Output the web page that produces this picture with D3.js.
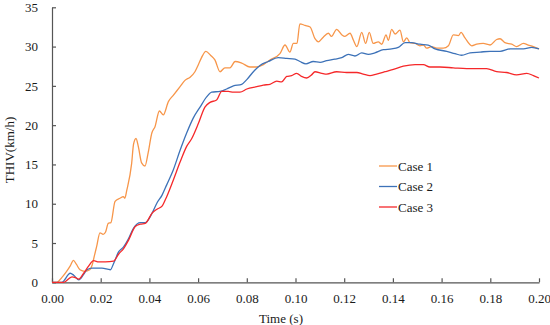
<!DOCTYPE html>
<html>
<head>
<meta charset="utf-8">
<script src="https://cdn.jsdelivr.net/npm/d3@7"></script>
<style>
  body { margin: 0; background: #fff; }
  svg text { font-family: 'Liberation Serif', 'Times New Roman', Times, 'DejaVu Serif', serif !important; fill: #1a1a1a; }
</style>
</head>
<body>
<svg id="thiv-chart"></svg>
<script>
////////////////////////////////////////////////////////////////////////////////
///////////////////////////////////////////////////////////////////////// Data
////////////////////////////////////////////////////////////////////////////////

// [time (s), THIV (km/h)]
const case1 = [
  [0,0],[0.002,0],[0.004,0.6],[0.006,1.4],[0.0075,2.1],[0.0088,2.8],[0.010,2.3],[0.0115,1.6],
  [0.0135,1.4],[0.0155,1.6],[0.0165,2.2],[0.0175,3.5],[0.0183,4.5],[0.0197,6.3],[0.021,6.1],
  [0.022,6.4],[0.0231,7.5],[0.0242,7.6],[0.0259,10.3],[0.0279,10.7],[0.0293,10.9],[0.0299,10.7],
  [0.0307,11.7],[0.0327,15.1],[0.0335,17.6],[0.0345,18.3],[0.0355,17.2],[0.0368,15.2],[0.0382,14.8],
  [0.0395,16.5],[0.041,19.0],[0.0423,19.8],[0.0441,21.8],[0.0457,21.3],[0.0478,23.0],[0.0498,23.8],
  [0.0526,24.9],[0.0546,25.7],[0.0567,26.1],[0.0587,26.8],[0.0601,27.7],[0.0614,28.6],[0.0632,29.4],
  [0.0651,28.9],[0.0669,28.3],[0.069,26.8],[0.071,27.3],[0.0731,27.3],[0.0752,28.1],[0.0779,27.9],
  [0.0813,27.4],[0.0841,27.4],[0.0868,27.7],[0.0895,28.3],[0.0936,29.1],[0.0957,30.2],[0.0977,29.3],
  [0.0991,30.4],[0.1006,30.4],[0.1018,32.9],[0.1039,32.7],[0.106,32.5],[0.108,31.0],[0.1094,30.6],
  [0.1114,31.2],[0.1135,31.7],[0.1148,31.3],[0.1169,32.2],[0.119,31.5],[0.1203,31.3],[0.1224,31.7],
  [0.1238,30.8],[0.1252,30.0],[0.1272,31.8],[0.1288,30.4],[0.1303,31.8],[0.1319,30.4],[0.134,30.6],
  [0.1354,30.3],[0.1372,31.5],[0.1381,30.8],[0.1395,32.2],[0.1409,31.6],[0.1429,32.1],[0.1443,30.6],
  [0.1457,31.1],[0.147,30.5],[0.1491,30.4],[0.1511,30.1],[0.1525,30.2],[0.1539,29.8],[0.1559,30.0],
  [0.158,29.8],[0.1607,29.8],[0.1628,30.1],[0.1648,31.5],[0.1669,31.4],[0.168,31.8],[0.1696,31.1],
  [0.1724,30.1],[0.1744,30.3],[0.1771,30.4],[0.1799,30.2],[0.1826,30.9],[0.184,31.0],[0.186,30.5],
  [0.1888,30.3],[0.1908,30.0],[0.1936,30.4],[0.1956,30.2],[0.1977,30.0],[0.2,29.7]
];

const case2 = [
  [0,0],[0.004,0],[0.0075,1.15],[0.0089,0.9],[0.011,0.3],[0.013,1.0],[0.0144,1.6],[0.0164,1.8],
  [0.0205,1.8],[0.024,1.6],[0.0253,2.4],[0.0274,3.9],[0.0294,4.5],[0.0315,5.6],[0.0335,6.9],
  [0.0363,7.6],[0.0383,7.6],[0.0411,8.8],[0.0431,10.1],[0.0452,11.1],[0.0471,12.4],[0.0498,14.3],
  [0.0526,16.8],[0.0553,19.0],[0.058,20.9],[0.0608,22.3],[0.0635,23.6],[0.0656,24.2],[0.069,24.3],
  [0.0717,24.6],[0.0745,25.0],[0.0779,25.2],[0.08,25.8],[0.0827,26.8],[0.0854,27.6],[0.0888,28.1],
  [0.0929,28.6],[0.0964,28.5],[0.0998,28.4],[0.1018,28.1],[0.1043,27.8],[0.1073,28.1],[0.1101,28.0],
  [0.1128,28.2],[0.1162,28.4],[0.119,28.6],[0.1217,29.0],[0.1244,28.8],[0.1272,29.2],[0.1299,29.0],
  [0.1326,29.2],[0.1361,29.6],[0.1395,29.7],[0.1422,29.9],[0.145,30.5],[0.1477,30.5],[0.1511,30.3],
  [0.1545,30.2],[0.1573,29.7],[0.1621,29.4],[0.1655,29.1],[0.1682,28.9],[0.1717,29.2],[0.1758,29.3],
  [0.1799,29.4],[0.184,29.4],[0.1881,29.7],[0.1936,29.7],[0.197,29.9],[0.2,29.7]
];

const case3 = [
  [0,0],[0.0048,0],[0.0082,0.7],[0.0096,0.6],[0.011,0.4],[0.013,1.15],[0.0151,2.1],[0.0171,2.75],
  [0.0192,2.6],[0.0219,2.6],[0.0253,2.7],[0.0274,3.6],[0.0294,4.3],[0.0315,5.4],[0.0342,7.1],
  [0.0363,7.4],[0.0383,7.5],[0.0411,8.8],[0.0431,9.3],[0.0452,9.7],[0.0471,10.9],[0.0498,13.0],
  [0.0526,15.3],[0.0553,17.3],[0.0574,18.3],[0.0601,20.2],[0.0628,22.3],[0.0649,22.9],[0.0676,23.2],
  [0.0697,24.3],[0.0724,24.3],[0.0745,24.2],[0.0772,24.2],[0.08,24.6],[0.0841,24.9],[0.0868,25.1],
  [0.0895,25.2],[0.0923,25.6],[0.0943,25.5],[0.0964,26.2],[0.0984,26.3],[0.1005,26.6],[0.1025,26.2],
  [0.1046,26.0],[0.1066,26.4],[0.108,26.8],[0.1108,26.6],[0.1128,26.5],[0.1169,26.8],[0.121,26.7],
  [0.1252,26.7],[0.1278,26.5],[0.1306,26.3],[0.1333,26.5],[0.1368,26.8],[0.1402,27.1],[0.1443,27.5],
  [0.1491,27.7],[0.1525,27.7],[0.1552,27.4],[0.1593,27.4],[0.1648,27.3],[0.1703,27.2],[0.1744,27.2],
  [0.1785,27.2],[0.1826,26.8],[0.1867,26.7],[0.1908,26.4],[0.195,26.6],[0.1977,26.3],[0.2,26.0]
];

const seriesNames = ["Case 1", "Case 2", "Case 3"];
const seriesColors = ["#F7964A", "#3D72B8", "#F5282A"];
const xTicks = [0, 0.02, 0.04, 0.06, 0.08, 0.10, 0.12, 0.14, 0.16, 0.18, 0.20];
const yTicks = [0, 5, 10, 15, 20, 25, 30, 35];

////////////////////////////////////////////////////////////////////////////////
//////////////////////////////////////////////////////////////////// SVG setup
////////////////////////////////////////////////////////////////////////////////

const svgWidth = 550;
const svgHeight = 325;
const plot = { left: 52, right: 539, top: 7.3, bottom: 282.3 };
const axisColor = "#555";
const fontFamily = "'Liberation Serif', 'Times New Roman', Times, 'DejaVu Serif', serif";
const fontSize = "13px";

const svg = d3.select("#thiv-chart")
              .attr("width", svgWidth)
              .attr("height", svgHeight)
              .attr("font-family", fontFamily);

const xScale = d3.scaleLinear()
                 .domain([0, 0.2])
                 .range([plot.left, plot.right]);

const yScale = d3.scaleLinear()
                 .domain([0, 35])
                 .range([plot.bottom, plot.top]);

////////////////////////////////////////////////////////////////////////////////
///////////////////////////////////////////////////////////////////////// Axes
////////////////////////////////////////////////////////////////////////////////

const xAxis = d3.axisBottom(xScale)
                .tickValues(xTicks)
                .tickFormat(d3.format(".2f"))
                .tickSizeInner(-4)
                .tickSizeOuter(0)
                .tickPadding(11);

const yAxis = d3.axisLeft(yScale)
                .tickValues(yTicks)
                .tickFormat(d3.format("d"))
                .tickSizeInner(-4)
                .tickSizeOuter(0)
                .tickPadding(14);

function styleAxis(g) {
  g.attr("font-family", fontFamily).attr("font-size", fontSize);
  g.select(".domain").attr("stroke", axisColor).attr("stroke-width", 1.2);
  g.selectAll(".tick line").attr("stroke", axisColor).attr("stroke-width", 1.2);
  g.selectAll(".tick text").attr("fill", "#1a1a1a");
}

svg.append("g")
     .attr("transform", `translate(0, ${plot.bottom})`)
     .call(xAxis)
     .call(styleAxis);

svg.append("g")
     .attr("transform", `translate(${plot.left}, 0)`)
     .call(yAxis)
     .call(styleAxis);

// Axis titles
svg.append("text")
     .attr("x", 281)
     .attr("y", 318)
     .attr("dy", "0.35em")
     .attr("font-size", fontSize)
     .style("text-anchor", "middle")
     .text("Time (s)");

svg.append("text")
     .attr("transform", "translate(9, 150) rotate(-90)")
     .attr("dy", "0.35em")
     .attr("font-size", fontSize)
     .style("text-anchor", "middle")
     .text("THIV(km/h)");

////////////////////////////////////////////////////////////////////////////////
//////////////////////////////////////////////////////////////////////// Lines
////////////////////////////////////////////////////////////////////////////////

const line = d3.line()
               .x(function(d) { return xScale(d[0]); })
               .y(function(d) { return yScale(d[1]); })
               .curve(d3.curveMonotoneX);

const allSeries = [case1, case2, case3];

svg.selectAll(".line")
   .data(allSeries)
   .join("path")
     .attr("class", "line")
     .attr("fill", "none")
     .attr("stroke-width", 1.3)
     .attr("stroke-linejoin", "round")
     .attr("stroke", function(d, i) { return seriesColors[i]; })
     .attr("d", line);

////////////////////////////////////////////////////////////////////////////////
/////////////////////////////////////////////////////////////////////// Legend
////////////////////////////////////////////////////////////////////////////////

const legend = svg.append("g")
                    .attr("transform", "translate(379, 166)");

const legendItems = legend.selectAll(".legend-item")
                          .data(seriesNames)
                          .join("g")
                            .attr("class", "legend-item")
                            .attr("transform", function(d, i) { return `translate(0, ${i * 20.5})`; });

legendItems.append("line")
             .attr("x1", 0)
             .attr("x2", 18)
             .attr("stroke-width", 1.3)
             .attr("stroke", function(d, i) { return seriesColors[i]; });

legendItems.append("text")
             .attr("x", 19)
             .attr("dy", "0.35em")
             .attr("font-size", fontSize)
             .text(function(d) { return d; });
</script>
</body>
</html>
